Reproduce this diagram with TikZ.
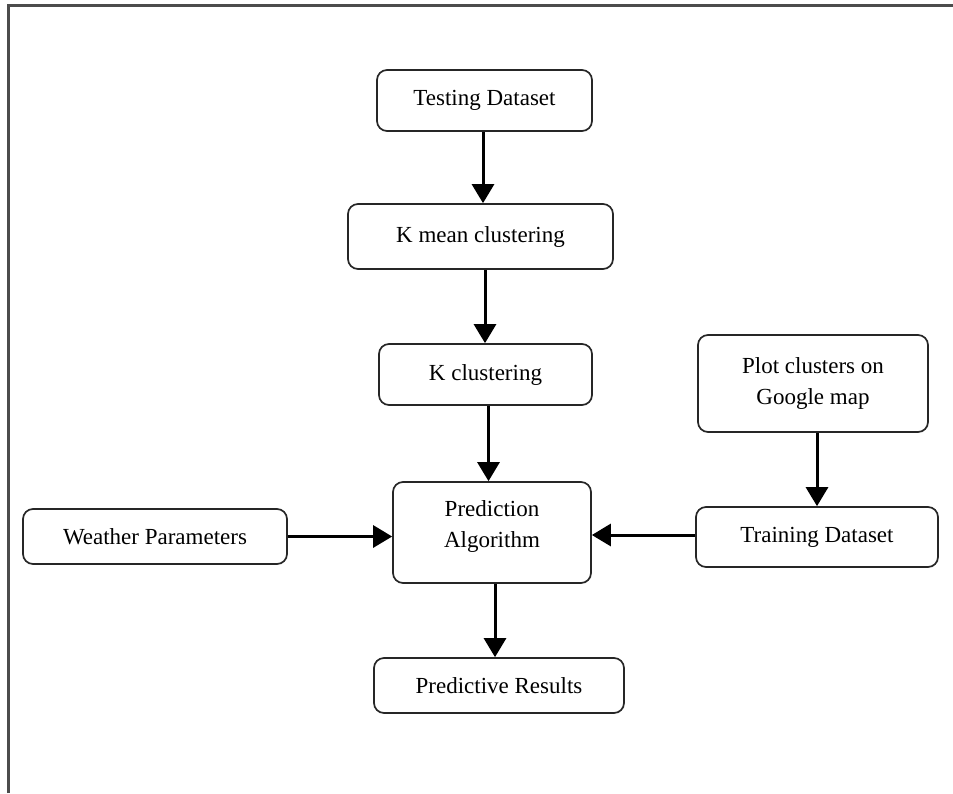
\documentclass[tikz,border=0pt]{standalone}
\usepackage{fontspec}
\setmainfont{Liberation Serif}
\usetikzlibrary{arrows.meta}
\tikzset{
  box/.style={draw=black!85, line width=1.7pt, rounded corners=10pt, fill=white,
    align=center, inner sep=0pt, font=\fontsize{23}{31}\selectfont},
  link/.style={line width=3pt, black, -{Triangle[width=22pt,length=19pt]}},
  frame/.style={draw=black!70, line width=2.2pt}
}
\begin{document}
\begin{tikzpicture}[x=1pt,y=-1pt]
\useasboundingbox (0,0) rectangle (953,793);
\coordinate (fb) at (8.5,793);
\coordinate (fc) at (8.5,5.5);
\coordinate (fr) at (953,5.5);
\draw[frame] (fb) -- (fc) -- (fr);

\node[box, minimum width=215pt, minimum height=61pt] (test) at (484.5,100.5) {Testing Dataset};
\node[box, minimum width=265pt, minimum height=65pt] (kmean) at (480.5,236.5) {K mean clustering};
\node[box, minimum width=213pt, minimum height=61pt] (kclus) at (485.5,374.5) {K clustering};
\node[box, minimum width=230pt, minimum height=97pt] (plot) at (813,383.5) {Plot clusters on\\Google map};
\node[box, minimum width=242pt, minimum height=60pt] (train) at (817,537) {Training Dataset};
\node[box, minimum width=264pt, minimum height=55pt] (weather) at (155,536.5) {Weather Parameters};
\node[box, minimum width=198pt, minimum height=101pt] (pred) at (492,532.5) {Prediction\\Algorithm\\[-15pt]};
\node[box, minimum width=250pt, minimum height=55pt] (results) at (499,685.5) {Predictive Results};

\draw[link] ([xshift=-1.5pt]test.south) -- ([xshift=-1.5pt]test.south |- kmean.north);
\draw[link] ([xshift=4.5pt]kmean.south) -- ([xshift=4.5pt]kmean.south |- kclus.north);
\draw[link] ([xshift=3pt]kclus.south) -- ([xshift=3pt]kclus.south |- pred.north);
\draw[link] ([xshift=3pt]pred.south) -- ([xshift=3pt]pred.south |- results.north);
\draw[link] ([xshift=4pt]plot.south) -- ([xshift=4pt]plot.south |- train.north);
\draw[link] (weather.east) -- (weather.east -| pred.west);
\draw[link] ([yshift=2pt]train.west) -- ([yshift=2pt]train.west -| pred.east);
\end{tikzpicture}
\end{document}
